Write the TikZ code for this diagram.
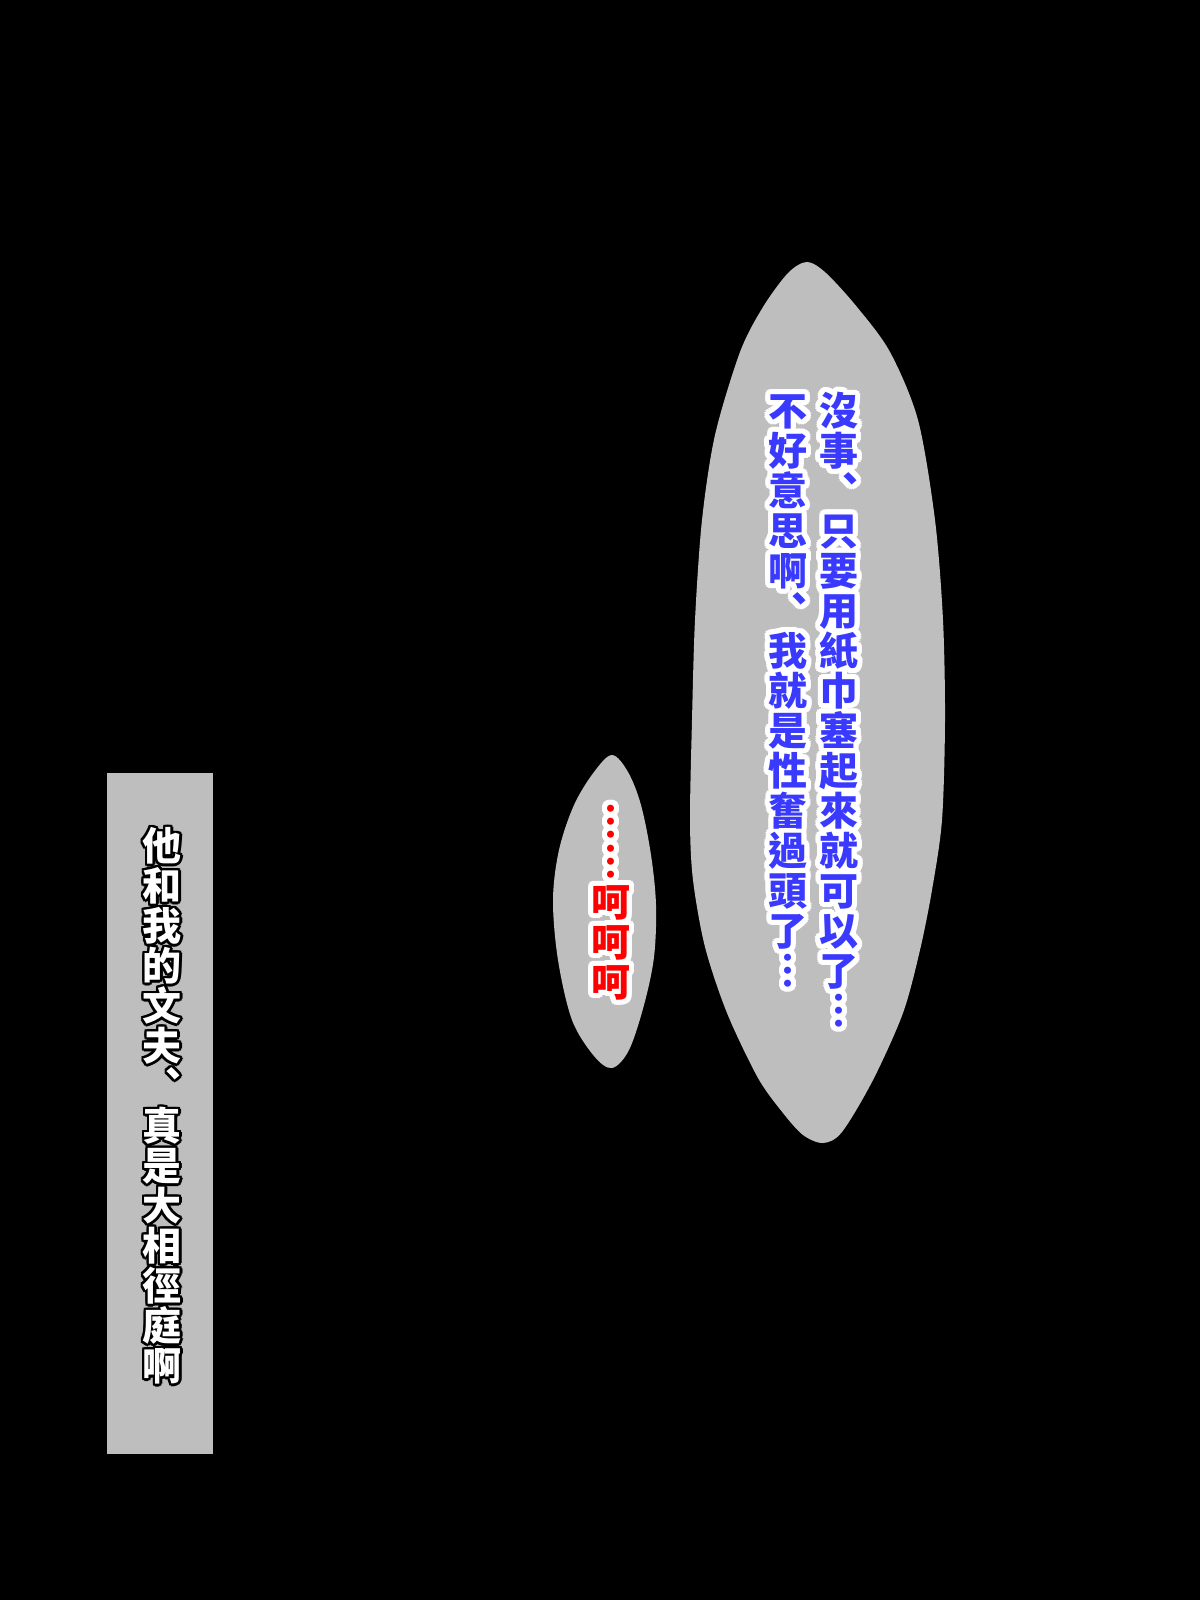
\documentclass[tikz,border=0pt]{standalone}
\usepackage{fontspec}
\newfontfamily\cjk{Noto Sans CJK TC}
\usetikzlibrary{calc}

\definecolor{bubblegray}{RGB}{190,190,190}
\definecolor{speechblue}{RGB}{58,58,255}
\definecolor{laughred}{RGB}{255,0,0}

% one vertical line of text: name, x, y of first cell, fill, outline, chars
\newcommand\vcolumn[6]{%
    \foreach \ch [count=\i from 0] in {#6} {
        \foreach \a in {0,22.5,...,337.5}
            \node[glyph, text=#5] (#1\i-\a) at ($(#2,#3)+(0,40*\i)+(\a:\olw)$) {\ch};
    }
    \foreach \ch [count=\i from 0] in {#6}
        \node[glyph, text=#4] (#1\i) at ($(#2,#3)+(0,40*\i)$) {\ch};
}

\begin{document}
\begin{tikzpicture}[
    x=1pt, y=-1pt,
    bubble/.style={
        fill=bubblegray,
        draw=none,
    },
    glyph/.style={
        font=\cjk\bfseries\fontsize{39}{40}\selectfont,
        inner sep=0pt,
        text height=34pt,
        text depth=5pt,
    }
]
    % Page
    \fill[black] (0,0) rectangle (1200,1600);
    \useasboundingbox (0,0) rectangle (1200,1600);

    % Big speech bubble
    \fill[bubble] plot[smooth cycle, tension=0.5] coordinates {
        (807,262) (826,273) (857,307) (890,352) (918,420) (935,520)
        (943,620) (945,720) (942,820) (932,890) (920,950) (903,1013)
        (873,1080) (842,1132) (823,1143) (803,1135) (783,1113) (758,1078)
        (727,1013) (705,947) (693,880) (690,820) (692,720) (695,620)
        (702,520) (715,435) (740,352) (763,307) (788,273)};

    % Small speech bubble
    \fill[bubble] plot[smooth cycle, tension=0.55] coordinates {
        (612,755) (628,772) (641,805) (651,855) (656,905) (654,957)
        (644,1005) (629,1050) (612,1068) (594,1056) (572,1020) (558,960)
        (553,900) (559,850) (574,805) (594,772)};

    % Caption box
    \fill[bubble] (107,773) rectangle (213,1454);

    % Speech
    \def\olw{5}
    \vcolumn{r}{839}{411}{speechblue}{white}{沒,事,︑,只,要,用,紙,巾,塞,起,來,就,可,以,了,︙}
    \vcolumn{l}{788}{411}{speechblue}{white}{不,好,意,思,啊,︑,我,就,是,性,奮,過,頭,了,︙}
    \vcolumn{h}{611}{822}{laughred}{white}{︙,︙,呵,呵,呵}

    % Caption
    \def\olw{2.5}
    \vcolumn{c}{162}{846}{white}{black}{他,和,我,的,文,夫,︑,真,是,大,相,徑,庭,啊}
\end{tikzpicture}
\end{document}
